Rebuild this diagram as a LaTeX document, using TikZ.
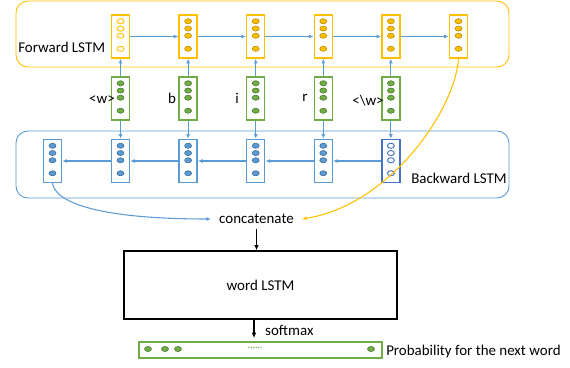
\documentclass[tikz,border=0pt]{standalone}
\usepackage{fontspec}
\setmainfont{Carlito}
\usetikzlibrary{arrows.meta,positioning,calc}
\definecolor{lsyellow}{RGB}{255,192,0}
\definecolor{lsyeldark}{RGB}{191,144,0}
\definecolor{lsgreen}{RGB}{112,173,71}
\definecolor{lsgrndark}{RGB}{80,126,50}
\definecolor{lsblue}{RGB}{91,155,213}
\definecolor{lsbluedark}{RGB}{65,113,156}
\definecolor{lsnavy}{RGB}{68,114,196}

\tikzset{
  cell/.style={line width=1.1pt, minimum width=13.5pt, minimum height=32.25pt, inner sep=0pt},
  fwcell/.style={cell, draw=lsyellow},
  chcell/.style={cell, draw=lsgreen},
  bwcell/.style={cell, draw=lsblue},
  fullyel/.style={fill=lsyellow, draw=lsyeldark, line width=0.5pt},
  emptyyel/.style={fill=white, draw=lsyellow, line width=0.7pt},
  fullgrn/.style={fill=lsgreen, draw=lsgrndark, line width=0.5pt},
  fullblu/.style={fill=lsblue, draw=lsbluedark, line width=0.5pt},
  emptyblu/.style={fill=white, draw=lsnavy, line width=0.7pt},
  bluearrow/.style={draw=lsblue, line width=0.8pt, -{Latex[length=3.5pt,width=3pt]}},
  blackarrow/.style={draw=black, line width=0.8pt, -{Latex[length=4pt,width=3.5pt]}},
  lbl/.style={font=\fontsize{11.2}{13}\selectfont, inner sep=0pt}
}

% four dots inside a cell
\newcommand{\celldots}[2]{%
  \foreach \dy in {7,14.3,21.5,34.5}
    \draw[#2] ($(#1.north)+(0,-\dy)$) ellipse [x radius=2.6pt, y radius=1.9pt];}

\begin{document}
\begin{tikzpicture}[x=0.75pt, y=0.75pt]
  \useasboundingbox (0,0) rectangle (570,-367);

  % Frames
  \draw[lsyellow, line width=0.7pt, rounded corners=9pt] (16,-1) rectangle (509,-67);
  \draw[lsblue, line width=0.7pt, rounded corners=9pt] (16,-131) rectangle (509,-198);
  \node[lbl, anchor=west] (fwlabel) at (18,-47) {Forward LSTM};
  \node[lbl, anchor=west] (bwlabel) at (411,-178) {Backward LSTM};

  % Cells
  \foreach \i/\x in {1/120.5, 2/188.1, 3/255.7, 4/323.3, 5/390.9, 6/458.5}
    \node[fwcell] (f\i) at (\x,-36.5) {};
  \foreach \i/\x in {1/120.5, 2/188.1, 3/255.7, 4/323.3, 5/390.9}
    \node[chcell] (g\i) at (\x,-98.5) {};
  \foreach \i/\x in {1/52.5, 2/120.5, 3/188.1, 4/255.7, 5/323.3}
    \node[bwcell] (b\i) at (\x,-161) {};
  \node[cell, draw=lsnavy] (b6) at (390.9,-161) {};

  % Dots
  \celldots{f1}{emptyyel}
  \foreach \i in {2,...,6} {\celldots{f\i}{fullyel}}
  \foreach \i in {1,...,5} {\celldots{g\i}{fullgrn}}
  \foreach \i in {1,...,5} {\celldots{b\i}{fullblu}}
  \celldots{b6}{emptyblu}

  % Characters
  \node[lbl] (c1) at (102,-100) {<w>};
  \node[lbl] (c2) at (172,-98) {b};
  \node[lbl] (c3) at (237,-98) {i};
  \node[lbl] (c4) at (305,-98) {r};
  \node[lbl] (c5) at (368,-101) {<\textbackslash w>};

  % Connections
  \foreach \i [evaluate=\i as \j using int(\i+1)] in {1,...,5} {
    \draw[bluearrow] (f\i) -- (f\j);
    \draw[bluearrow] (b\j) -- (b\i);
    \draw[bluearrow] (g\i) -- (f\i);
    \draw[bluearrow] (g\i) -- (b\j);
  }

  % Concatenate
  \node[lbl, inner xsep=6pt, inner ysep=4pt] (concat) at (256.5,-219) {concatenate};
  \draw[bluearrow] (b1.south) .. controls ($(b1.south)+(3,-20)$) and ($(concat.west)+(-110,0)$) .. (concat.west);
  \draw[lsyellow, line width=0.8pt, -{Latex[length=3.5pt,width=3pt]}]
    (f6.south) .. controls (455,-110) and (390,-205) .. (concat.east);

  % Word LSTM
  \node[draw, line width=0.9pt, minimum width=204.75pt, minimum height=51pt, lbl] (word) at (260.5,-285) {word LSTM};
  \draw[blackarrow] (concat.south) -- (concat.south |- word.north);

  % Output
  \node[draw=lsgreen, line width=1.1pt, minimum width=182.25pt, minimum height=12pt, inner sep=0pt] (prob) at (260.5,-350) {};
  \foreach \x in {148,165,178,371}
    \draw[fullgrn] (\x,-349) ellipse [x radius=2.6pt, y radius=1.9pt];
  \node[text=lsgreen, font=\scriptsize\bfseries, inner sep=0pt] (pdots) at (255,-348) {......};
  \node[lbl, anchor=west] (plabel) at (386,-352) {Probability for the next word};
  \draw[blackarrow, shorten >=3pt] (254,-319) -- (254,-342) node[lbl, right=8pt, pos=0.5] (soft) {softmax};
\end{tikzpicture}
\end{document}
